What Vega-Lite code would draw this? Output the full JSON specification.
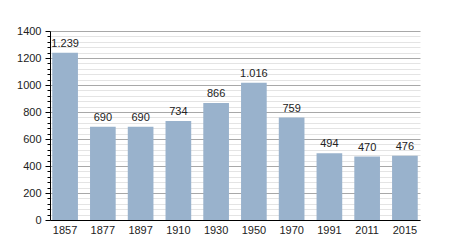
{
  "$schema": "https://vega.github.io/schema/vega-lite/v6.json",
  "autosize": "none",
  "width": 370,
  "height": 189,
  "padding": {"left": 50, "top": 31, "right": 30, "bottom": 30},
  "config": {
    "view": {"stroke": null},
    "font": "Liberation Sans",
    "locale": {"number": {"decimal": ",", "thousands": ".", "grouping": [3], "currency": ["", " €"]}}
  },
  "data": {"values": [
    {"year": "1857", "pop": 1239},
    {"year": "1877", "pop": 690},
    {"year": "1897", "pop": 690},
    {"year": "1910", "pop": 734},
    {"year": "1930", "pop": 866},
    {"year": "1950", "pop": 1016},
    {"year": "1970", "pop": 759},
    {"year": "1991", "pop": 494},
    {"year": "2011", "pop": 470},
    {"year": "2015", "pop": 476}
  ]},
  "encoding": {
    "x": {"field": "year", "type": "ordinal", "sort": null,
      "scale": {"paddingInner": 0.32, "paddingOuter": 0.06},
      "axis": {"title": null, "labelAngle": 0, "ticks": false, "domainColor": "#000", "labelFontSize": 11, "labelColor": "#222", "labelPadding": 4}}
  },
  "layer": [
    {
      "mark": {"type": "tick", "opacity": 0},
      "encoding": {
        "y": {"field": "pop", "type": "quantitative",
          "scale": {"domain": [0, 1400], "nice": false},
          "axis": {"title": null, "orient": "left", "values": [40,80,120,160,240,280,320,360,440,480,520,560,640,680,720,760,840,880,920,960,1040,1080,1120,1160,1240,1280,1320,1360],
            "labels": false, "domain": false, "tickSize": 3, "tickColor": "#000", "grid": true, "gridColor": "#e4e4e4", "zindex": 0}}
      }
    },
    {
      "mark": {"type": "bar", "color": "#99b2cc"},
      "encoding": {
        "y": {"field": "pop", "type": "quantitative",
          "scale": {"domain": [0, 1400], "nice": false},
          "axis": {"title": null, "orient": "left", "values": [0,200,400,600,800,1000,1200,1400], "format": "d",
            "grid": true, "gridColor": "#a8a8a8", "domainColor": "#000", "tickColor": "#000", "tickSize": 5,
            "labelFontSize": 11, "labelColor": "#222", "labelPadding": 4, "zindex": 0}}
      }
    },
    {
      "mark": {"type": "text", "dy": -9, "fontSize": 11, "color": "#222"},
      "encoding": {
        "y": {"field": "pop", "type": "quantitative", "scale": {"domain": [0, 1400], "nice": false}, "axis": null},
        "text": {"field": "pop", "type": "quantitative", "format": ",d"}
      }
    }
  ],
  "resolve": {"axis": {"y": "independent"}}
}
